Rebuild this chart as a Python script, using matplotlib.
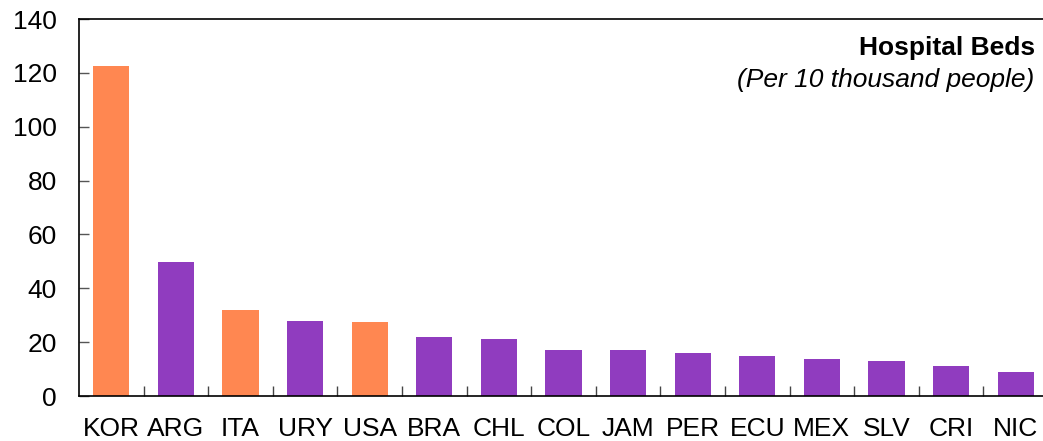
import matplotlib.pyplot as plt
import numpy as np

plt.rcParams['font.family'] = ['Liberation Sans', 'DejaVu Sans']

countries = ['KOR', 'ARG', 'ITA', 'URY', 'USA', 'BRA', 'CHL', 'COL',
             'JAM', 'PER', 'ECU', 'MEX', 'SLV', 'CRI', 'NIC']
beds = [122.5, 49.9, 31.9, 28.0, 27.5, 21.9, 21.0, 17.1,
        17.0, 16.0, 14.9, 13.7, 12.9, 11.1, 9.0]
highlight = ['KOR', 'ITA', 'USA']

orange = '#FF8751'
purple = '#903CBF'
colors = [orange if c in highlight else purple for c in countries]

fig = plt.figure(figsize=(10.43, 4.41), dpi=100)
# axes runs a little past the right edge of the figure
ax = fig.add_axes([79 / 1043, 1 - 396 / 441, 969 / 1043, 377 / 441])

x = np.arange(len(countries))
ax.bar(x, beds, width=0.56, color=colors, edgecolor='none', zorder=2)

ax.set_xlim(-0.5, len(countries) - 0.5)
ax.set_ylim(0, 140)
ax.set_yticks(range(0, 141, 20))
ax.tick_params(axis='y', direction='in', length=7, width=1, color='#555555',
               labelsize=19, pad=16)

ax.set_xticks(x)
ax.set_xticklabels(countries)
ax.set_xticks(x[1:] - 0.5, minor=True)
ax.tick_params(axis='x', which='major', length=0, labelsize=19, pad=15)
ax.tick_params(axis='x', which='minor', direction='in', length=7, width=1,
               color='#444444')

for side in ['left', 'bottom', 'top']:
    ax.spines[side].set_linewidth(1.2)
ax.spines['right'].set_visible(False)

fig.text(1035 / 1043, 1 - 55 / 441, 'Hospital Beds', ha='right', va='baseline',
         fontsize=19, fontweight='bold')
fig.text(1034 / 1043, 1 - 87 / 441, '(Per 10 thousand people)', ha='right',
         va='baseline', fontsize=19, style='italic')

fig.savefig('out.png', dpi=100)
